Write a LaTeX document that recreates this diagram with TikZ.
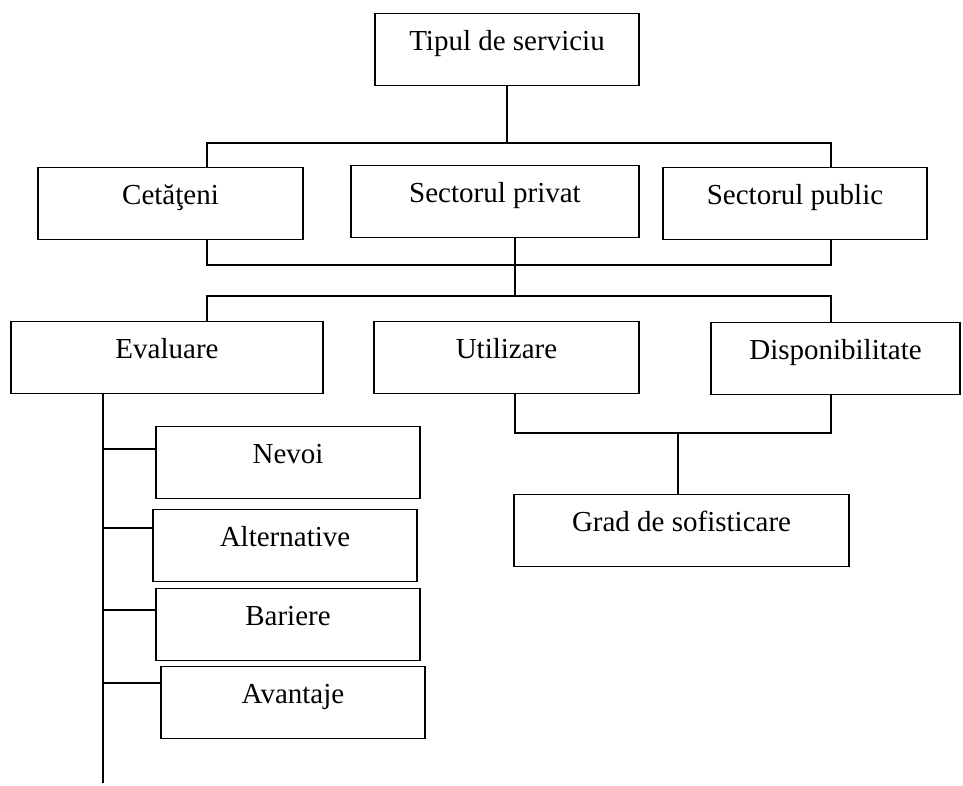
\documentclass[tikz,border=0pt]{standalone}
\usepackage{fontspec}
\setmainfont{Liberation Serif}
\tikzset{
  box/.style={draw, line width=1.1pt, inner sep=0pt, text height=37pt, text depth=35pt,
    anchor=north, font=\fontsize{29}{34}\selectfont},
  link/.style={line width=1.1pt},
}
\begin{document}
\begin{tikzpicture}[x=1pt,y=-1pt]
\useasboundingbox (0,0) rectangle (963,785);
% nivelul 1
\node[box, minimum width=264pt] (tip) at (507,13) {Tipul de serviciu};
% nivelul 2
\node[box, minimum width=265pt] (cet) at (170.5,167) {Cetăţeni};
\node[box, minimum width=288pt] (priv) at (495,165) {Sectorul privat};
\node[box, minimum width=264pt] (pub) at (795,167) {Sectorul public};
% nivelul 3
\node[box, minimum width=312pt] (eva) at (167,321) {Evaluare};
\node[box, minimum width=265pt] (util) at (506.5,321) {Utilizare};
\node[box, minimum width=249pt] (disp) at (835.5,322) {Disponibilitate};
\node[box, minimum width=335pt] (grad) at (681.5,494) {Grad de sofisticare};
% evaluare
\node[box, minimum width=264pt] (nev) at (288,426) {Nevoi};
\node[box, minimum width=264pt] (alt) at (285,509) {Alternative};
\node[box, minimum width=264pt] (bar) at (288,588) {Bariere};
\node[box, minimum width=264pt] (ava) at (293,666) {Avantaje};
% bare de legatura
\coordinate (b1l) at (207,143);
\coordinate (b1r) at (831,143);
\coordinate (b2l) at (207,265);
\coordinate (b2r) at (831,265);
\coordinate (b3l) at (207,296);
\coordinate (b3m) at (515,296);
\coordinate (b3r) at (831,296);
\coordinate (b4l) at (515,433);
\coordinate (b4m) at (678,433);
\coordinate (b4r) at (831,433);
\coordinate (spine) at (103,783);
\coordinate (s1) at (103,449);
\coordinate (s2) at (103,528);
\coordinate (s3) at (103,610);
\coordinate (s4) at (103,683);
\draw[link] (tip.south) -- (tip.south |- b1l);
\draw[link] (b1l |- cet.north) -- (b1l) -- (b1r) -- (b1r |- pub.north);
\draw[link] (b2l |- cet.south) -- (b2l) -- (b2r) -- (b2r |- pub.south);
\draw[link] (b3m |- priv.south) -- (b3m);
\draw[link] (b3l |- eva.north) -- (b3l) -- (b3r) -- (b3r |- disp.north);
\draw[link] (b4l |- util.south) -- (b4l) -- (b4r) -- (b4r |- disp.south);
\draw[link] (b4m) -- (b4m |- grad.north);
\draw[link] (spine |- eva.south) -- (spine);
\draw[link] (s1) -- (s1 -| nev.west);
\draw[link] (s2) -- (s2 -| alt.west);
\draw[link] (s3) -- (s3 -| bar.west);
\draw[link] (s4) -- (s4 -| ava.west);
\end{tikzpicture}
\end{document}
